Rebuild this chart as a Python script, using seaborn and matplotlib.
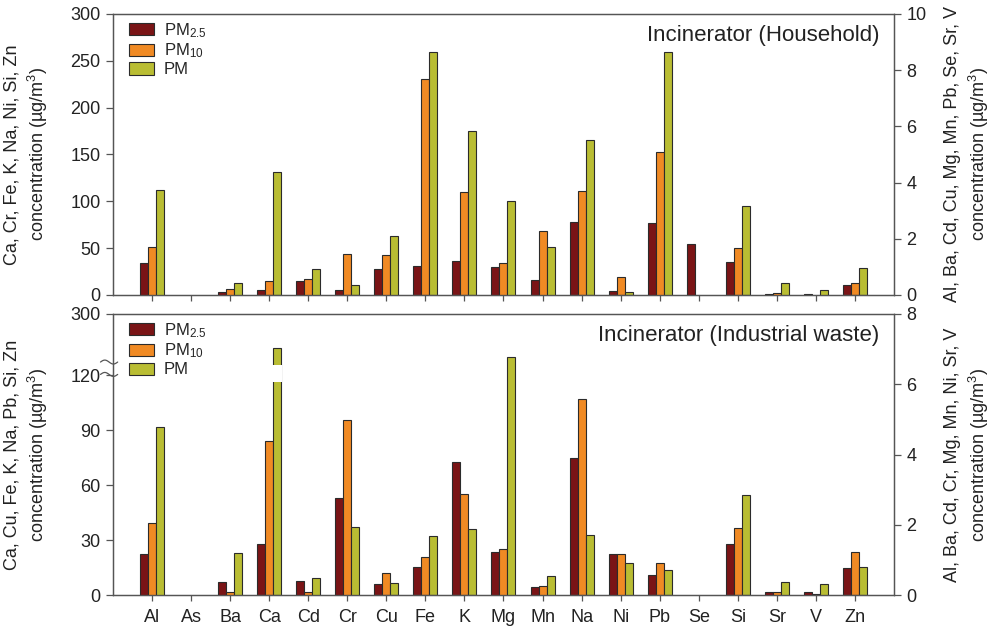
import numpy as np
import pandas as pd
import matplotlib
matplotlib.use("Agg")
import matplotlib.pyplot as plt
import seaborn as sns
from matplotlib.patches import Patch, Rectangle

nan = np.nan

# Elements on the shared category axis
elements = ["Al", "As", "Ba", "Ca", "Cd", "Cr", "Cu", "Fe", "K", "Mg",
            "Mn", "Na", "Ni", "Pb", "Se", "Si", "Sr", "V", "Zn"]
fractions = ["PM2.5", "PM10", "PM"]
fraction_labels = ["PM$_{2.5}$", "PM$_{10}$", "PM"]

# Household incinerator (left-axis elements in µg/m3 on 0-300, others on 0-10)
hh_left = ["Ca", "Cr", "Fe", "K", "Na", "Ni", "Si", "Zn"]
hh_pm25 = [1.12, nan, 0.12, 5.3, 0.50, 5.5, 0.94, 31, 36, 1.00,
           0.53, 78, 4, 2.56, 1.83, 35, 0.05, 0.05, 10.3]
hh_pm10 = [1.72, nan, 0.23, 15, 0.57, 44, 1.42, 231, 110, 1.12,
           2.28, 111, 19, 5.07, nan, 50, 0.07, nan, 12.5]
hh_pm = [3.74, nan, 0.43, 131, 0.93, 11, 2.10, 259, 175, 3.35,
         1.70, 165.5, 3.2, 8.63, nan, 95.5, 0.43, 0.17, 29]

# Industrial waste incinerator (left axis broken above 120, right axis 0-8)
iw_left = ["Ca", "Cu", "Fe", "K", "Na", "Pb", "Si", "Zn"]
iw_pm25 = [1.16, nan, 0.36, 27.7, 0.39, 2.75, 6.2, 15.5, 72.8, 1.22,
           0.23, 75, 1.16, 10.7, nan, 28, 0.085, 0.085, 14.9]
iw_pm10 = [2.06, nan, 0.10, 83.8, 0.08, 4.99, 11.8, 20.9, 54.9, 1.32,
           0.26, 106.8, 1.17, 17.3, nan, 36.8, 0.08, 0.03, 23.3]
iw_pm = [4.77, nan, 1.19, 200, 0.48, 1.95, 6.8, 32, 36, 6.79,
         0.54, 33, 0.91, 13.9, nan, 54.8, 0.36, 0.30, 15.5]

colors = ["#7a1416", "#f08a24", "#b9bd33"]
edge = "#2b2b2b"
axis_color = "#555555"
text_color = "#222222"

sns.set_style("ticks")
plt.rcParams["font.family"] = ["Liberation Sans", "DejaVu Sans"]
plt.rcParams["mathtext.fontset"] = "custom"
plt.rcParams["mathtext.rm"] = "Liberation Sans"
plt.rcParams["mathtext.it"] = "Liberation Sans:italic"
plt.rcParams["mathtext.bf"] = "Liberation Sans:bold"


def long_frame(pm25, pm10, pm, left_elements):
    rows = []
    for el, a, b, c in zip(elements, pm25, pm10, pm):
        side = "left" if el in left_elements else "right"
        for frac, v in zip(fractions, (a, b, c)):
            if not np.isnan(v):
                rows.append((el, frac, v, side))
    return pd.DataFrame(rows, columns=["element", "fraction", "value", "side"])


def style_axis(a):
    for s in a.spines.values():
        s.set_visible(True)
        s.set_color(axis_color)
        s.set_linewidth(0.9)
    a.tick_params(axis="y", direction="out", length=5, width=0.9,
                  color=axis_color, labelsize=13, labelcolor=text_color, pad=4)
    a.tick_params(axis="x", direction="out", length=4, width=0.9,
                  color=axis_color, labelsize=13, labelcolor=text_color, pad=6)


def draw_panel(ax, df, title, left_label, right_label):
    ax2 = ax.twinx()
    kw = dict(x="element", y="value", hue="fraction", order=elements,
              hue_order=fractions, palette=colors, width=0.615,
              edgecolor=edge, linewidth=0.8, errorbar=None, legend=False,
              saturation=1)
    sns.barplot(data=df[df.side == "left"], ax=ax, **kw)
    sns.barplot(data=df[df.side == "right"], ax=ax2, **kw)
    ax.set_xlim(-1, len(elements))
    ax.set_xticks(range(len(elements)))
    ax.set_xlabel("")
    ax2.set_xlabel("")
    ax.set_ylabel(left_label, fontsize=13, color=text_color, linespacing=1.3)
    ax2.set_ylabel(right_label, fontsize=13, color=text_color, linespacing=1.3,
                   rotation=90)
    ax.yaxis.set_label_coords(-0.081, 0.5)
    ax2.yaxis.set_label_coords(1.064, 0.5)
    style_axis(ax)
    style_axis(ax2)
    ax.text(0.981, 0.925, title, transform=ax.transAxes, ha="right",
            va="center", fontsize=16, color=text_color)
    handles = [Patch(facecolor=c, edgecolor=edge, linewidth=0.8, label=l)
               for c, l in zip(colors, fraction_labels)]
    ax2.legend(handles=handles, loc="upper left", bbox_to_anchor=(0.02, 0.975),
               frameon=False, fontsize=12, handlelength=1.5, handleheight=0.75,
               handletextpad=0.6, labelspacing=0.12, borderaxespad=0,
               borderpad=0)
    return ax2


fig = plt.figure(figsize=(9.92, 6.28), dpi=100)
ax_top = fig.add_axes([0.1139, 0.5303, 0.7873, 0.4475])
ax_bot = fig.add_axes([0.1139, 0.0525, 0.7873, 0.4475])

# Upper panel
hh = long_frame(hh_pm25, hh_pm10, hh_pm, hh_left)
ax_top2 = draw_panel(
    ax_top, hh, "Incinerator (Household)",
    "Ca, Cr, Fe, K, Na, Ni, Si, Zn\nconcentration (µg/m$^3$)",
    "Al, Ba, Cd, Cu, Mg, Mn, Pb, Se, Sr, V\nconcentration (µg/m$^3$)")
ax_top.set_ylim(0, 300)
ax_top.set_yticks(range(0, 301, 50))
ax_top2.set_ylim(0, 10)
ax_top2.set_yticks(range(0, 11, 2))
ax_top.tick_params(axis="x", labelbottom=False)

# Lower panel
iw = long_frame(iw_pm25, iw_pm10, iw_pm, iw_left)
ax_bot2 = draw_panel(
    ax_bot, iw, "Incinerator (Industrial waste)",
    "Ca, Cu, Fe, K, Na, Pb, Si, Zn\nconcentration (µg/m$^3$)",
    "Al, Ba, Cd, Cr, Mg, Mn, Ni, Sr, V\nconcentration (µg/m$^3$)")

# Broken left axis: linear to 120, compressed from 120 to 300
squeeze = 33.3 / 180.0


def fwd(y):
    y = np.asarray(y, dtype=float)
    return np.where(y <= 120, y, 120 + (y - 120) * squeeze)


def inv(u):
    u = np.asarray(u, dtype=float)
    return np.where(u <= 120, u, 120 + (u - 120) / squeeze)


ax_bot.set_yscale("function", functions=(fwd, inv))
ax_bot.set_ylim(0, 300)
ax_bot.set_yticks([0, 30, 60, 90, 120, 300])
ax_bot.set_yticklabels(["0", "30", "60", "90", "120", "300"])
ax_bot.yaxis.set_minor_locator(matplotlib.ticker.NullLocator())
ax_bot2.set_ylim(0, 8)
ax_bot2.set_yticks(range(0, 9, 2))
ax_bot.set_xticklabels(elements)

# Gap in the tallest bar where the axis is broken
tall = max(ax_bot.patches, key=lambda p: p.get_height())
ax_bot.add_patch(Rectangle((tall.get_x() - 0.03, 116), tall.get_width() + 0.06,
                           34, facecolor="white", edgecolor="none", zorder=5))

# Break marks on the left spine
xs = np.linspace(-0.016, 0.006, 40)
for y0 in (0.829, 0.785):
    ys = y0 + 0.007 * np.sin(2 * np.pi * (xs + 0.016) / 0.022)
    ax_bot.plot(xs, ys, transform=ax_bot.transAxes, color=axis_color,
                lw=0.9, clip_on=False, zorder=6)

fig.savefig("out.png", dpi=100)
